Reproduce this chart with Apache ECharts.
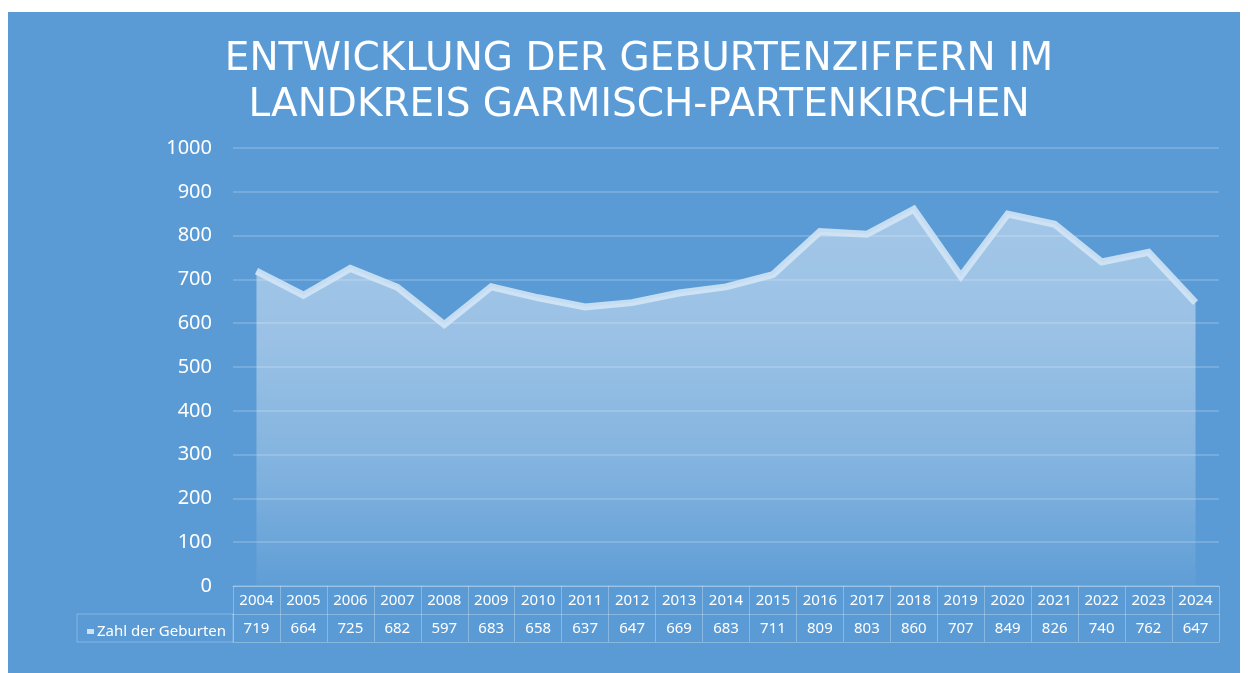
<!DOCTYPE html>
<html>

<head>
    <meta charset="utf-8">
    <title>Geburtenziffern</title>
    <script src="https://cdn.jsdelivr.net/npm/echarts@6/dist/echarts.min.js"></script>
    <style>
        body { margin: 0; background: #ffffff; }
    </style>
</head>

<body>
    <div id="main" style="width: 1248px;height:673px;"></div>
    <script type="text/javascript">
        // Daten
        const years = ['2004', '2005', '2006', '2007', '2008', '2009', '2010', '2011', '2012', '2013', '2014',
            '2015', '2016', '2017', '2018', '2019', '2020', '2021', '2022', '2023', '2024'];
        const births = [719, 664, 725, 682, 597, 683, 658, 637, 647, 669, 683,
            711, 809, 803, 860, 707, 849, 826, 740, 762, 647];
        const seriesName = 'Zahl der Geburten';
        const yTicks = { min: 0, max: 1000, interval: 100 };

        const fontFamily = '"Noto Sans", sans-serif';
        const border = 'rgba(255,255,255,0.28)';

        let myChart = echarts.init(document.getElementById('main'));

        let option = {
            backgroundColor: '#ffffff',
            textStyle: { fontFamily: fontFamily },
            graphic: [
                {
                    type: 'rect', z: -10,
                    shape: { x: 8, y: 12, width: 1232, height: 661 },
                    style: { fill: '#5b9bd5' }
                },
                {
                    // Rahmen der Legendenzelle
                    type: 'rect', z: 5,
                    shape: { x: 77, y: 614, width: 156, height: 28 },
                    style: { fill: 'none', stroke: border, lineWidth: 1 }
                }
            ],
            title: {
                text: 'ENTWICKLUNG DER GEBURTENZIFFERN IM\nLANDKREIS GARMISCH-PARTENKIRCHEN',
                left: 634,
                textAlign: 'center',
                top: 32,
                textStyle: {
                    color: '#ffffff',
                    fontSize: 39,
                    fontWeight: 'normal',
                    lineHeight: 46,
                    fontFamily: '"DejaVu Sans", sans-serif'
                }
            },
            legend: {
                left: 82,
                top: 619,
                icon: 'rect',
                itemWidth: 7,
                itemHeight: 5,
                itemGap: 4,
                data: [seriesName],
                textStyle: { color: '#ffffff', fontSize: 15, padding: [0, 0, 0, -2] }
            },
            grid: {
                left: 233,
                right: 29,
                top: 148,
                bottom: 87,
                containLabel: false
            },
            xAxis: [
                {
                    type: 'category',
                    data: years,
                    boundaryGap: true,
                    axisLine: { show: true, lineStyle: { color: border } },
                    axisTick: { show: true, length: 28, lineStyle: { color: border } },
                    axisLabel: { color: '#ffffff', fontSize: 15, margin: 7 }
                },
                {
                    // Wertezeile der Datentabelle
                    type: 'category',
                    position: 'bottom',
                    offset: 28,
                    data: births.map(String),
                    boundaryGap: true,
                    axisLine: { show: true, lineStyle: { color: border } },
                    axisTick: { show: true, length: 28, lineStyle: { color: border } },
                    axisLabel: { color: '#ffffff', fontSize: 15, margin: 7 }
                },
                {
                    type: 'category',
                    position: 'bottom',
                    offset: 56,
                    data: years,
                    axisLine: { show: true, lineStyle: { color: border } },
                    axisTick: { show: false },
                    axisLabel: { show: false }
                }
            ],
            yAxis: {
                type: 'value',
                min: yTicks.min,
                max: yTicks.max,
                interval: yTicks.interval,
                axisLine: { show: false },
                axisTick: { show: false },
                axisLabel: {
                    color: '#ffffff', fontSize: 20, margin: 21,
                    formatter: function (v) { return String(v); }
                },
                splitLine: { lineStyle: { color: 'rgba(255,255,255,0.22)', width: 1.5 } }
            },
            series: [
                {
                    name: seriesName,
                    type: 'line',
                    data: births,
                    symbol: 'none',
                    color: 'rgba(220,234,247,0.9)',
                    lineStyle: { color: 'rgba(212,230,246,0.88)', width: 7, join: 'miter' },
                    areaStyle: {
                        color: new echarts.graphic.LinearGradient(0, 0, 0, 1, [
                            { offset: 0, color: 'rgba(255,255,255,0.62)' },
                            { offset: 0.35, color: 'rgba(255,255,255,0.55)' },
                            { offset: 0.7, color: 'rgba(255,255,255,0.33)' },
                            { offset: 1, color: 'rgba(255,255,255,0.04)' }
                        ]),
                        origin: 'start'
                    },
                    z: 3
                }
            ]
        };

        myChart.setOption(option);
    </script>
</body>

</html>
